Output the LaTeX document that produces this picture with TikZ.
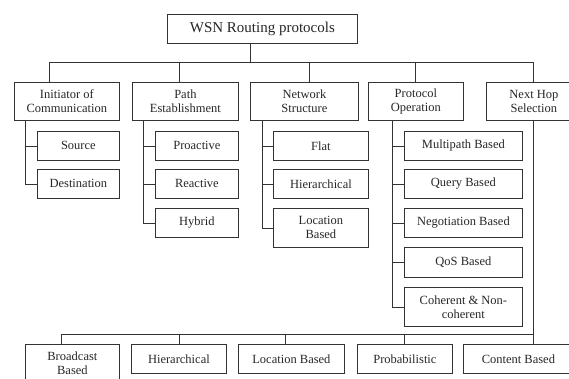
\documentclass[tikz,border=0pt]{standalone}
\usepackage{fontspec}
\setmainfont{Liberation Serif}
\begin{document}
\begin{tikzpicture}[x=1pt,y=-1pt,
    box/.style={draw=black!80,line width=0.8pt,anchor=north west,align=center,
                inner sep=1pt,font=\fontsize{12.5}{14}\selectfont,text=black!85},
    link/.style={draw=black!80,line width=0.8pt}]
  \useasboundingbox (0,0) rectangle (569,378);
  \clip (0,0) rectangle (569,378);

  % root and first level
  \node[box,minimum width=190,minimum height=29,font=\fontsize{15}{17}\selectfont] (root) at (167,14) {WSN Routing protocols};
  \foreach \n/\x/\w/\txt in {init/14/105/{Initiator of\\Communication},
                             path/132/106/{Path\\Establishment},
                             net/250/108/{Network\\Structure},
                             proto/368/95/{Protocol\\Operation},
                             nhop/486/95/{Next Hop\\Selection}}
    \node[box,minimum width=\w,minimum height=38] (\n) at (\x,82) {\txt};

  % children
  \foreach \n/\x/\y/\w/\h/\txt in {src/37/131/82/29/{Source},
                                   dst/37/169/82/29/{Destination},
                                   pro/155/131/83/29/{Proactive},
                                   rea/155/169/83/29/{Reactive},
                                   hyb/155/208/83/29/{Hybrid},
                                   flat/273/131/95/29/{Flat},
                                   hier/273/169/95/29/{Hierarchical},
                                   loc/273/208/95/39/{Location\\Based},
                                   mult/404/131/118/29/{Multipath Based},
                                   query/404/169/118/29/{Query Based},
                                   nego/404/208/118/29/{Negotiation Based},
                                   qos/404/247/118/30/{QoS Based},
                                   coh/404/287/118/39/{Coherent \& Non-\\coherent}}
    \node[box,minimum width=\w,minimum height=\h] (\n) at (\x,\y) {\txt};

  % next hop children
  \foreach \n/\x/\w/\h/\txt in {bcast/25/94/37/{Broadcast\\Based},
                                bhier/131/95/29/{Hierarchical},
                                bloc/238/106/29/{Location Based},
                                bprob/357/95/29/{Probabilistic},
                                bcont/463/110/29/{Content Based}}
    \node[box,minimum width=\w,minimum height=\h] (\n) at (\x,344) {\txt};

  % connectors
  \coordinate (hub) at (250,62);
  \draw[link] (root.south -| hub) -- (hub);
  \foreach \n/\dx in {init/49,path/179,net/309,proto/415,nhop/533}
    \draw[link] (\n.north -| \dx,0) |- (hub);

  \foreach \p/\c/\sx in {init/src/25,init/dst/25,
                         path/pro/143,path/rea/143,path/hyb/143,
                         net/flat/262,net/hier/262,net/loc/262,
                         proto/mult/392,proto/query/392,proto/nego/392,proto/qos/392,proto/coh/392}
    \draw[link] (\p.south -| \sx,0) |- (\c.west);

  \coordinate (low) at (533,334);
  \draw[link] (nhop.south -| low) -- (low);
  \foreach \n/\dx in {bcast/61,bhier/179,bloc/285,bprob/404,bcont/533}
    \draw[link] (\n.north -| \dx,0) |- (low);
\end{tikzpicture}
\end{document}
